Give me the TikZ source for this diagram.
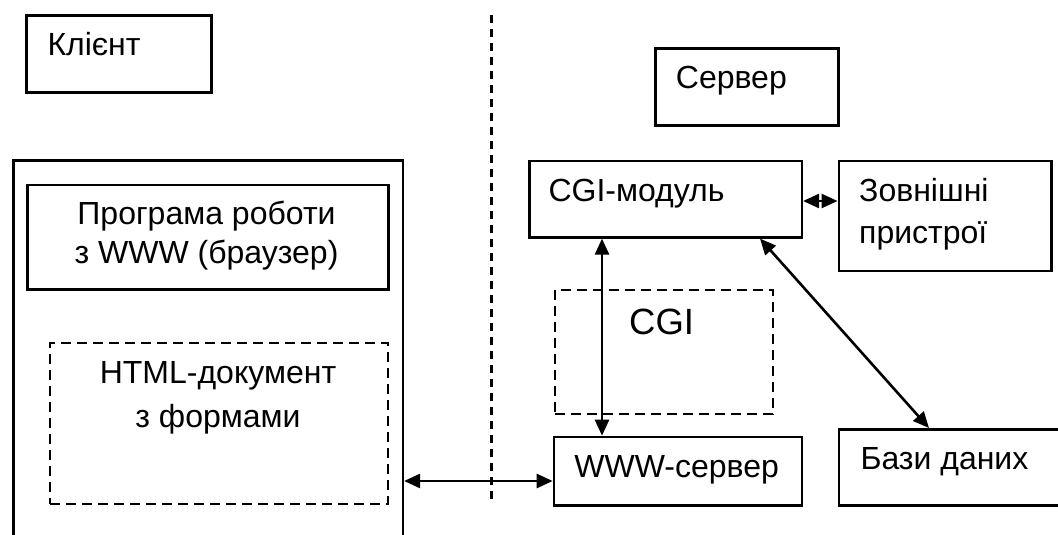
\documentclass[tikz,border=0pt]{standalone}
\usepackage{fontspec}
\setmainfont{Liberation Sans}
\usetikzlibrary{arrows.meta,calc}

\begin{document}
\begin{tikzpicture}[x=1pt,y=-1pt,
  box/.style={draw, line width=2.6pt, rectangle, inner sep=0pt, anchor=north west},
  dbox/.style={box, line width=2.4pt, dash pattern=on 10pt off 6pt},
  txt/.style={inner sep=0pt, font=\fontsize{32}{39}\selectfont},
  conn/.style={line width=2.6pt, {Triangle[length=16pt,width=14pt]}-{Triangle[length=16pt,width=14pt]}},
  divider/.style={line width=2.4pt, dash pattern=on 8pt off 6pt}]

\useasboundingbox (0,0) rectangle (1058,535);

% client / server divider
\coordinate (divtop) at (491.5,15);
\coordinate (divbot) at (491.5,500);
\draw[divider] (divtop) -- (divbot);

% client side
\node[box, minimum width=185, minimum height=77] (klient) at (25,14) {};
\node[txt, anchor=base west] (klientT) at (47.3,55.8) {Клієнт};

\node[box, minimum width=389.5, minimum height=430] (client) at (12,159) {};
\node[box, minimum width=361, minimum height=104.5] (browser) at (26,183.5) {};
\node[txt, align=center, anchor=base] (browserT) at (206.5,263.7) {Програма роботи\\з WWW (браузер)};

\node[dbox, minimum width=338, minimum height=161] (html) at (49,342) {};
\node[txt, align=center, anchor=base, font=\fontsize{32}{44}\selectfont] (htmlT) at (218,427) {HTML-документ\\з формами};

% server side
\node[box, minimum width=183, minimum height=77] (server) at (654,47) {};
\node[txt, anchor=base west] (serverT) at (675.7,88.6) {Сервер};

\node[box, minimum width=272.5, minimum height=76.5] (cgimod) at (528,159.5) {};
\node[txt, anchor=base west] (cgimodT) at (548.3,201) {CGI-модуль};

\node[box, minimum width=212.5, minimum height=110] (ext) at (837.5,159.5) {};
\node[txt, align=left, anchor=base west, font=\fontsize{32}{42}\selectfont] (extT) at (859,243) {Зовнішні\\пристрої};

\node[dbox, minimum width=218, minimum height=124] (cgi) at (553.5,288.5) {};
\node[txt, anchor=base, font=\fontsize{36.5}{40}\selectfont] (cgiT) at (661.6,334.3) {CGI};

\node[box, minimum width=248, minimum height=68.3] (www) at (552.7,435.7) {};
\node[txt, anchor=base] (wwwT) at (676.6,477.3) {WWW-сервер};

\node[box, minimum width=240, minimum height=76] (db) at (837.7,428) {};
\node[txt, anchor=base west] (dbT) at (860.3,469.5) {Бази даних};

% connectors
\draw[conn] (client.east |- 0,481) -- (www.west |- 0,481);
\draw[conn] (cgimod.south -| 602,0) -- (www.north -| 602,0);
\draw[conn] (cgimod.south -| 760,0) -- (db.north -| 929,0);
\draw[conn] (cgimod.east |- 0,201) -- (ext.west |- 0,201);
\end{tikzpicture}
\end{document}
